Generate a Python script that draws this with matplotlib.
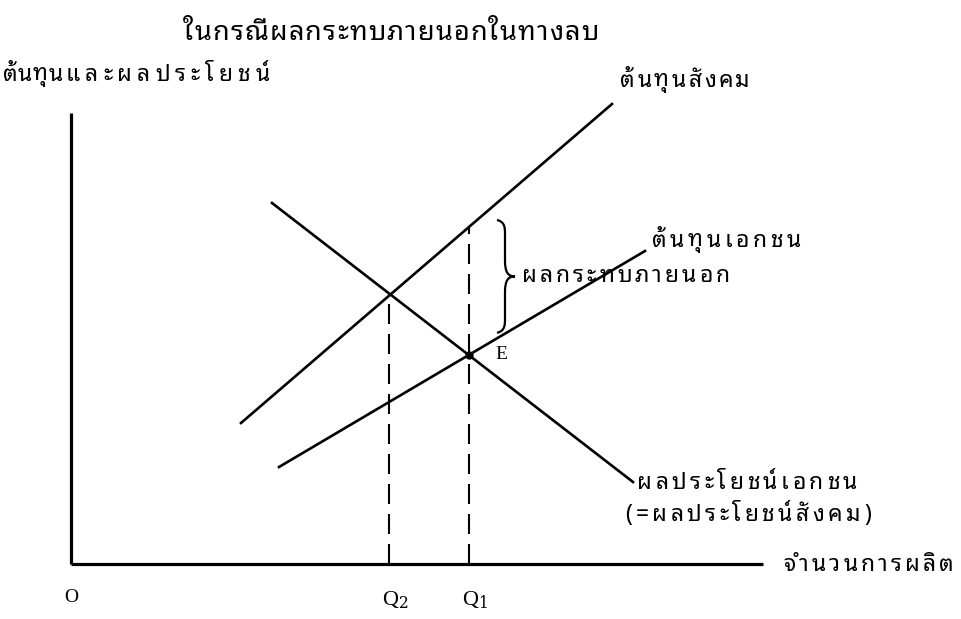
import numpy as np
import matplotlib
matplotlib.use('Agg')
import matplotlib.pyplot as plt
from matplotlib.path import Path
from matplotlib.patches import PathPatch

# ---- data (diagram units, origin at O) ----
social_cost_x = [170, 541]
social_cost_y = [141, 460]
private_cost_x = [208, 574]
private_cost_y = [97, 313]
benefit_x = [201, 562]
benefit_y = [361, 82]
q_positions = [318, 398]          # Q2, Q1
q_labels = ['Q$_2$', 'Q$_1$']
x_axis_end = 692
y_axis_top = 451

title = 'ในกรณีผลกระทบภายนอกในทางลบ'
ylabel_bold = 'ต้นทุน'
ylabel_rest = 'และผลประโยชน์'
xlabel = 'จำนวนการผลิต'
social_cost_label = 'ต้นทุนสังคม'
private_cost_label = 'ต้นทุนเอกชน'
external_label = 'ผลกระทบภายนอก'
benefit_label1 = 'ผลประโยชน์เอกชน'
benefit_label2 = '(=ผลประโยชน์สังคม)'

THAI = ['Noto Sans Thai Looped', 'DejaVu Sans']
SERIF = ['Liberation Serif', 'DejaVu Serif']

fig = plt.figure(figsize=(9.61, 6.19), dpi=100)
ax = fig.add_axes([0, 0, 1, 1])
ax.set_xlim(-71, 890)   # one unit = one pixel
ax.set_ylim(-55, 564)
ax.axis('off')
renderer = fig.canvas.get_renderer()

COMBINING = set([0x0E31] + list(range(0x0E34, 0x0E3B)) + list(range(0x0E47, 0x0E4F)))


def clusters(s):
    out = []
    for ch in s:
        if out and ord(ch) in COMBINING:
            out[-1] += ch
        else:
            out.append(ch)
    return out


def spaced_text(x, y, s, spacing, **kw):
    """Draw text cluster by cluster with extra letter spacing (units = px)."""
    for c in clusters(s):
        t = ax.text(x, y, c, ha='left', va='center', **kw)
        bb = t.get_window_extent(renderer)
        x += bb.width + spacing
    return x


lw = 1.9
# axes
ax.plot([0, 0], [0, y_axis_top], color='black', lw=2.3, solid_capstyle='butt')
ax.plot([0, x_axis_end], [0, 0], color='black', lw=2.3, solid_capstyle='butt')

# curves
ax.plot(social_cost_x, social_cost_y, color='black', lw=lw)
ax.plot(private_cost_x, private_cost_y, color='black', lw=lw)
ax.plot(benefit_x, benefit_y, color='black', lw=lw)

# heights at Q
q2, q1 = q_positions
sc_q2 = np.interp(q2, social_cost_x, social_cost_y)
sc_q1 = np.interp(q1, social_cost_x, social_cost_y)
pc_q1 = np.interp(q1, private_cost_x, private_cost_y)

dash = (0, (9.6, 4.8))
ax.plot([q2, q2], [0, sc_q2], color='black', lw=1.5, linestyle=dash)
ax.plot([q1, q1], [0, sc_q1], color='black', lw=1.5, linestyle=dash)
ax.plot([q1], [pc_q1], 'o', color='black', ms=5)

# brace
bx = q1 + 28
top = sc_q1 + 7
bot = pc_q1 + 22
mid = (top + bot) / 2
w = 8
verts = [(bx, top), (bx + w, top - 2), (bx + w, top - 8), (bx + w, top - 14),
         (bx + w, mid + 16),
         (bx + w, mid + 4), (bx + w + 3, mid), (bx + 2 * w + 2, mid),
         (bx + w + 3, mid), (bx + w, mid - 4), (bx + w, mid - 16),
         (bx + w, bot + 14),
         (bx + w, bot + 8), (bx + w, bot + 2), (bx, bot)]
codes = [Path.MOVETO, Path.CURVE4, Path.CURVE4, Path.CURVE4,
         Path.LINETO,
         Path.CURVE4, Path.CURVE4, Path.CURVE4,
         Path.CURVE4, Path.CURVE4, Path.CURVE4,
         Path.LINETO,
         Path.CURVE4, Path.CURVE4, Path.CURVE4]
ax.add_patch(PathPatch(Path(verts, codes), fill=False, lw=1.6, color='black'))

# texts
lab = dict(fontfamily=THAI, fontsize=16.5)
spaced_text(112, 531, title, 1.2, fontfamily=THAI, fontsize=19.5, fontweight='semibold')
xe = spaced_text(-68, 489, ylabel_bold, 0.5, fontfamily=THAI, fontsize=16.5, fontweight='bold')
spaced_text(xe + 2, 489, ylabel_rest, 5.0, **lab)

spaced_text(549, 483, social_cost_label, 2.5, **lab)
spaced_text(581, 323, private_cost_label, 3.5, **lab)
spaced_text(bx + 2 * w + 9, mid, external_label, 3.0, **lab)
ax.text(q1 + 26, pc_q1, 'E', fontfamily=SERIF, fontsize=14, ha='left', va='center')
spaced_text(566, 81, benefit_label1, 3.5, **lab)
spaced_text(554, 49, benefit_label2, 3.5, **lab)
spaced_text(712, -1, xlabel, 3.2, **lab)

ax.text(0, -33, 'O', fontfamily=SERIF, fontsize=14, ha='center', va='center')
for q, lb in zip(q_positions, q_labels):
    ax.text(q - 7, -36, lb, fontfamily=SERIF, fontsize=16, ha='left', va='center',
            math_fontfamily='dejavuserif')

fig.savefig('out.png', dpi=100)
